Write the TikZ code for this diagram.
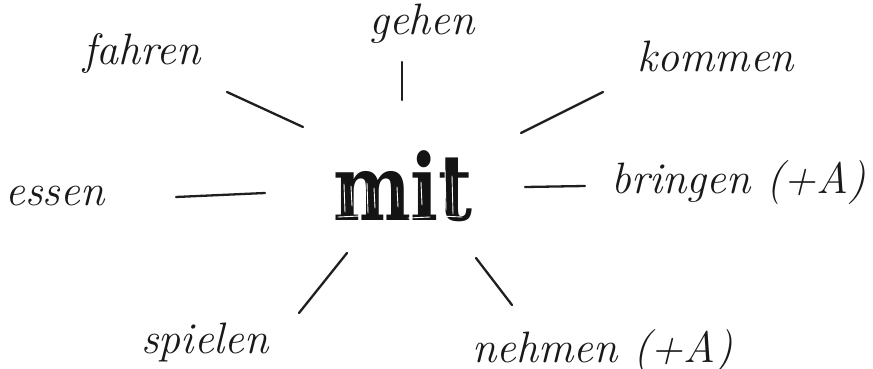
\documentclass[tikz,border=0pt]{standalone}
\usepackage{fontspec}
\newfontfamily\heavyfont{DejaVu Serif}[BoldFont={DejaVu Serif Bold}]
\begin{document}
\begin{tikzpicture}[x=1pt,y=-1pt,
  word/.style={font=\fontsize{44}{50}\selectfont\itshape, inner sep=0pt, anchor=base, text=black!90},
  spoke/.style={line width=2.3pt, draw=black!88, line cap=round},
  scratch/.style={draw=white, line width=0.9pt, line cap=round}]
\useasboundingbox (0,0) rectangle (873,369);

% centre word
\node[inner sep=0pt, anchor=base, xscale=0.8, text=black!92,
      font=\heavyfont\bfseries\fontsize{92}{96}\selectfont] (mit) at (403,220) {mit};

% thin worn streaks over the heavy letters (white, so they only show on the ink)
\foreach \x/\t/\b in {344/184/212, 351/186/206, 367/183/213, 374/188/208,
                      389/184/211, 397/187/207, 414/178/212, 421/182/205,
                      445/170/210, 452/176/214, 460/180/200}
  \draw[scratch] (\x,\t) -- ({\x+1},\b);
\draw[scratch] (338,217) -- (360,216);
\draw[scratch] (408,218) -- (430,217);
\draw[scratch] (440,216) -- (462,217);

% surrounding verbs
\node[word] (gehen)   at (422,35)  {gehen};
\node[word] (fahren)  at (142,65)  {fahren};
\node[word] (kommen)  at (716,72)  {kommen};
\node[word] (essen)   at (55,205)  {essen};
\node[word] (bringen) at (739,193) {bringen (+A)};
\node[word] (spielen) at (205,353) {spielen};
\node[word] (nehmen)  at (603,362) {nehmen (+A)};

% spoke end points
\coordinate (g1) at (402,62);  \coordinate (g2) at (402,100);
\coordinate (f1) at (227,92);  \coordinate (f2) at (303,127);
\coordinate (k1) at (603,92);  \coordinate (k2) at (521,133);
\coordinate (e1) at (176,197); \coordinate (e2) at (265,193);
\coordinate (b1) at (525,187); \coordinate (b2) at (585,186);
\coordinate (s1) at (347,253); \coordinate (s2) at (299,313);
\coordinate (n1) at (476,258); \coordinate (n2) at (512,305);

\draw[spoke] (g1) -- (g2);
\draw[spoke] (f1) -- (f2);
\draw[spoke] (k1) -- (k2);
\draw[spoke] (e1) -- (e2);
\draw[spoke] (b1) -- (b2);
\draw[spoke] (s1) -- (s2);
\draw[spoke] (n1) -- (n2);
\end{tikzpicture}
\end{document}
